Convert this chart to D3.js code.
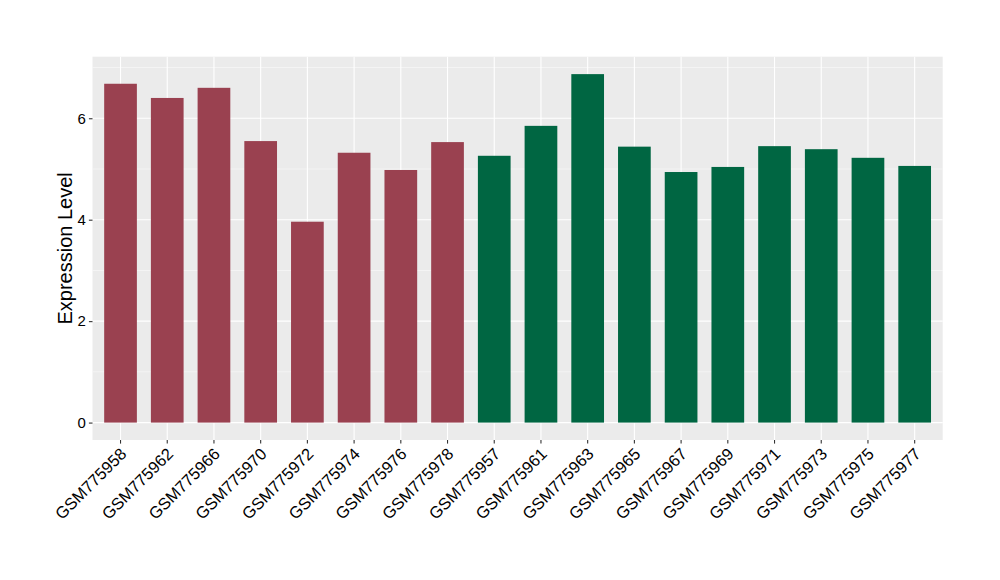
<!DOCTYPE html>
<html>
<head>
<meta charset="utf-8">
<script src="https://cdn.jsdelivr.net/npm/d3@7"></script>
<style>
  html, body { margin: 0; padding: 0; background: #fff; }
  svg { display: block; }
</style>
</head>
<body>
<svg id="chart" width="1000" height="580"></svg>
<script>
const samples = ["GSM775958","GSM775962","GSM775966","GSM775970","GSM775972","GSM775974","GSM775976","GSM775978",
                 "GSM775957","GSM775961","GSM775963","GSM775965","GSM775967","GSM775969","GSM775971","GSM775973","GSM775975","GSM775977"];
const values = [6.68, 6.40, 6.60, 5.55, 3.96, 5.32, 4.98, 5.53,
                5.26, 5.85, 6.87, 5.44, 4.94, 5.04, 5.45, 5.39, 5.22, 5.06];
const groups = ["A","A","A","A","A","A","A","A",
                "B","B","B","B","B","B","B","B","B","B"];
const groupColors = { A: "#9A4150", B: "#006642" };
const yTicks = [0, 2, 4, 6];
const yMinor = [1, 3, 5, 7];
const yTitle = "Expression Level";

const svg = d3.select("#chart");
const panel = { left: 92.5, top: 56.7, right: 942.7, bottom: 440 };
const font = "'Liberation Sans', Arial, sans-serif";

const maxV = d3.max(values);
const y = d3.scaleLinear()
  .domain([-0.05 * maxV, maxV * 1.05])
  .range([panel.bottom, panel.top]);

const n = samples.length;
const unit = (panel.right - panel.left) / (n - 1 + 1.2);
const x = d3.scaleBand()
  .domain(samples)
  .range([panel.left + 0.1 * unit, panel.right - 0.1 * unit])
  .paddingInner(0.3)
  .paddingOuter(0.15);

// panel background
svg.append("rect")
  .attr("x", panel.left).attr("y", panel.top)
  .attr("width", panel.right - panel.left)
  .attr("height", panel.bottom - panel.top)
  .attr("fill", "#EBEBEB");

const grid = svg.append("g");
grid.selectAll("line.minor").data(yMinor.filter(v => y(v) >= panel.top)).join("line")
  .attr("x1", panel.left).attr("x2", panel.right)
  .attr("y1", d => y(d)).attr("y2", d => y(d))
  .attr("stroke", "#fff").attr("stroke-width", 0.55).attr("opacity", 0.9);
grid.selectAll("line.majy").data(yTicks).join("line")
  .attr("x1", panel.left).attr("x2", panel.right)
  .attr("y1", d => y(d)).attr("y2", d => y(d))
  .attr("stroke", "#fff").attr("stroke-width", 1.1);
grid.append("g").selectAll("line").data(samples).join("line")
  .attr("y1", panel.top).attr("y2", panel.bottom)
  .attr("x1", d => x(d) + x.bandwidth() / 2).attr("x2", d => x(d) + x.bandwidth() / 2)
  .attr("stroke", "#fff").attr("stroke-width", 1.1);

// bars
svg.append("g").selectAll("rect").data(samples).join("rect")
  .attr("x", d => x(d))
  .attr("width", x.bandwidth())
  .attr("y", (d, i) => y(values[i]))
  .attr("height", (d, i) => y(0) - y(values[i]))
  .attr("fill", (d, i) => groupColors[groups[i]]);

// y axis
const yAxis = svg.append("g")
  .attr("transform", `translate(${panel.left},0)`)
  .call(d3.axisLeft(y).tickValues(yTicks).tickSize(3.6).tickPadding(3).tickFormat(d3.format("d")));
yAxis.select(".domain").remove();
yAxis.selectAll(".tick line").attr("stroke", "#333").attr("stroke-width", 1.1);
yAxis.selectAll(".tick text")
  .attr("fill", "#000").style("font-family", font).style("font-size", "15px");

// x axis
const xAxis = svg.append("g")
  .attr("transform", `translate(0,${panel.bottom})`)
  .call(d3.axisBottom(x).tickSize(3.6));
xAxis.select(".domain").remove();
xAxis.selectAll(".tick line").attr("stroke", "#333").attr("stroke-width", 1.1);
xAxis.selectAll(".tick text")
  .attr("fill", "#000")
  .style("font-family", font).style("font-size", "16.5px")
  .attr("text-anchor", "end")
  .attr("x", 0).attr("y", 0).attr("dy", 0)
  .attr("transform", "translate(7,15) rotate(-45)");

// y title
svg.append("text")
  .attr("transform", `translate(72,${(panel.top + panel.bottom) / 2}) rotate(-90)`)
  .attr("text-anchor", "middle")
  .style("font-family", font).style("font-size", "20px")
  .attr("fill", "#000")
  .text(yTitle);
</script>
</body>
</html>
